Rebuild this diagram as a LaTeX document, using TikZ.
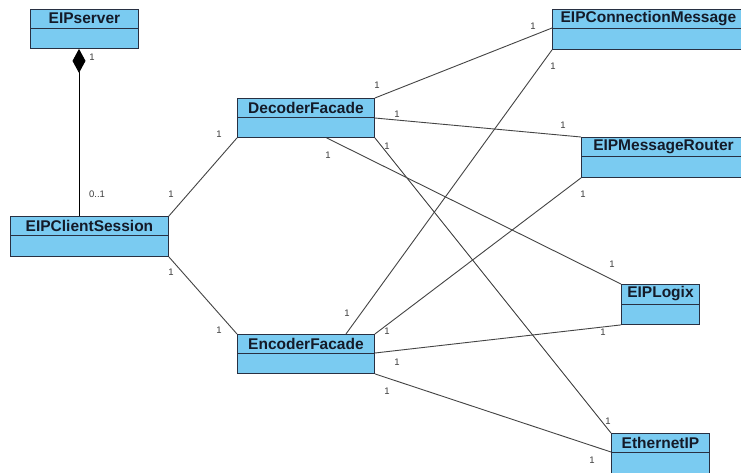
\documentclass[tikz,border=0pt]{standalone}
\usepackage{fontspec}
\setmainfont{Liberation Sans}
\usetikzlibrary{arrows.meta,calc}
\definecolor{boxfill}{RGB}{122,203,241}
\definecolor{boxline}{RGB}{40,48,66}
\definecolor{titletext}{RGB}{20,26,40}
\definecolor{linec}{RGB}{68,68,68}
\definecolor{multc}{RGB}{60,60,60}
\tikzset{
  cls/.style={draw=boxline, fill=boxfill, line width=0.9pt, inner sep=0pt, anchor=north west},
  hdr/.style={font=\bfseries\fontsize{15.5}{15.5}\selectfont, text=titletext, inner sep=0pt},
  mult/.style={font=\fontsize{9.5}{10}\selectfont, text=multc, inner sep=0pt},
  assoc/.style={draw=linec, line width=0.9pt},
}
\newcommand\umlclass[7]{%
  \node[cls, minimum width=#4pt, minimum height=#5pt] (#1) at (#2,#3) {};
  \draw[boxline, line width=0.9pt] ([yshift=-#6pt]#1.north west) -- ([yshift=-#6pt]#1.north east);
  \node[hdr] (#1t) at ([yshift=-#6pt/2]#1.north) {#7};
}
\begin{document}
\begin{tikzpicture}[x=1pt,y=-1pt]
\useasboundingbox (0,0) rectangle (741,472);
\fill[white] (0,0) rectangle (741,472);
\clip (0,0) rectangle (741,472);

% classes
\umlclass{srv}{30}{9}{108}{39}{19}{EIPserver}
\umlclass{cs}{10}{216}{158}{40}{19}{EIPClientSession}
\umlclass{dec}{237}{98}{137}{39}{19}{DecoderFacade}
\umlclass{enc}{237}{334}{137}{39}{19}{EncoderFacade}
\umlclass{conn}{552}{9}{192}{40}{19}{EIPConnectionMessage}
\umlclass{rout}{581}{137}{164}{40}{19}{EIPMessageRouter}
\umlclass{logix}{621}{284}{78}{40}{20}{EIPLogix}
\umlclass{eth}{611}{433}{98}{50}{19}{EthernetIP}

% composition
\draw[draw=black, line width=0.9pt, {Diamond[length=24pt,width=13pt,fill=black]}-]
  ($(srv.south west)+(49,0)$) -- ($(cs.north west)+(69,0)$);

% associations
\draw[assoc] (cs.north east) -- (dec.south west);
\draw[assoc] (cs.south east) -- (enc.north west);
\draw[assoc] (dec.north east) -- ([yshift=-19pt]conn.north west);
\draw[assoc] ([yshift=-20pt]dec.north east) -- (rout.north west);
\draw[assoc] ($(dec.south west)!0.65!(dec.south east)$) -- (logix.north west);
\draw[assoc] (dec.south east) -- (eth.north west);
\draw[assoc] ($(enc.north west)!0.79!(enc.north east)$) -- (conn.south west);
\draw[assoc] (enc.north east) -- (rout.south west);
\draw[assoc] ([yshift=-19pt]enc.north east) -- (logix.south west);
\draw[assoc] (enc.south east) -- ([yshift=-19pt]eth.north west);

% multiplicities
\node[mult] (m1) at (92,57) {1};
\node[mult] (m2) at (97,194) {0..1};
\node[mult] (m3) at (171,194) {1};
\node[mult] (m4) at (171,272) {1};
\node[mult] (m5) at (219,134) {1};
\node[mult] (m6) at (219,330) {1};
\node[mult] (m7) at (377,85) {1};
\node[mult] (m8) at (397,114) {1};
\node[mult] (m9) at (387,146) {1};
\node[mult] (m10) at (328,155) {1};
\node[mult] (m11) at (347,313) {1};
\node[mult] (m12) at (387,331) {1};
\node[mult] (m13) at (397,362) {1};
\node[mult] (m14) at (387,391) {1};
\node[mult] (m15) at (533,26) {1};
\node[mult] (m16) at (553,66) {1};
\node[mult] (m17) at (563,125) {1};
\node[mult] (m18) at (583,194) {1};
\node[mult] (m19) at (612,264) {1};
\node[mult] (m20) at (603,332) {1};
\node[mult] (m21) at (608,421) {1};
\node[mult] (m22) at (592,460) {1};
\end{tikzpicture}
\end{document}
